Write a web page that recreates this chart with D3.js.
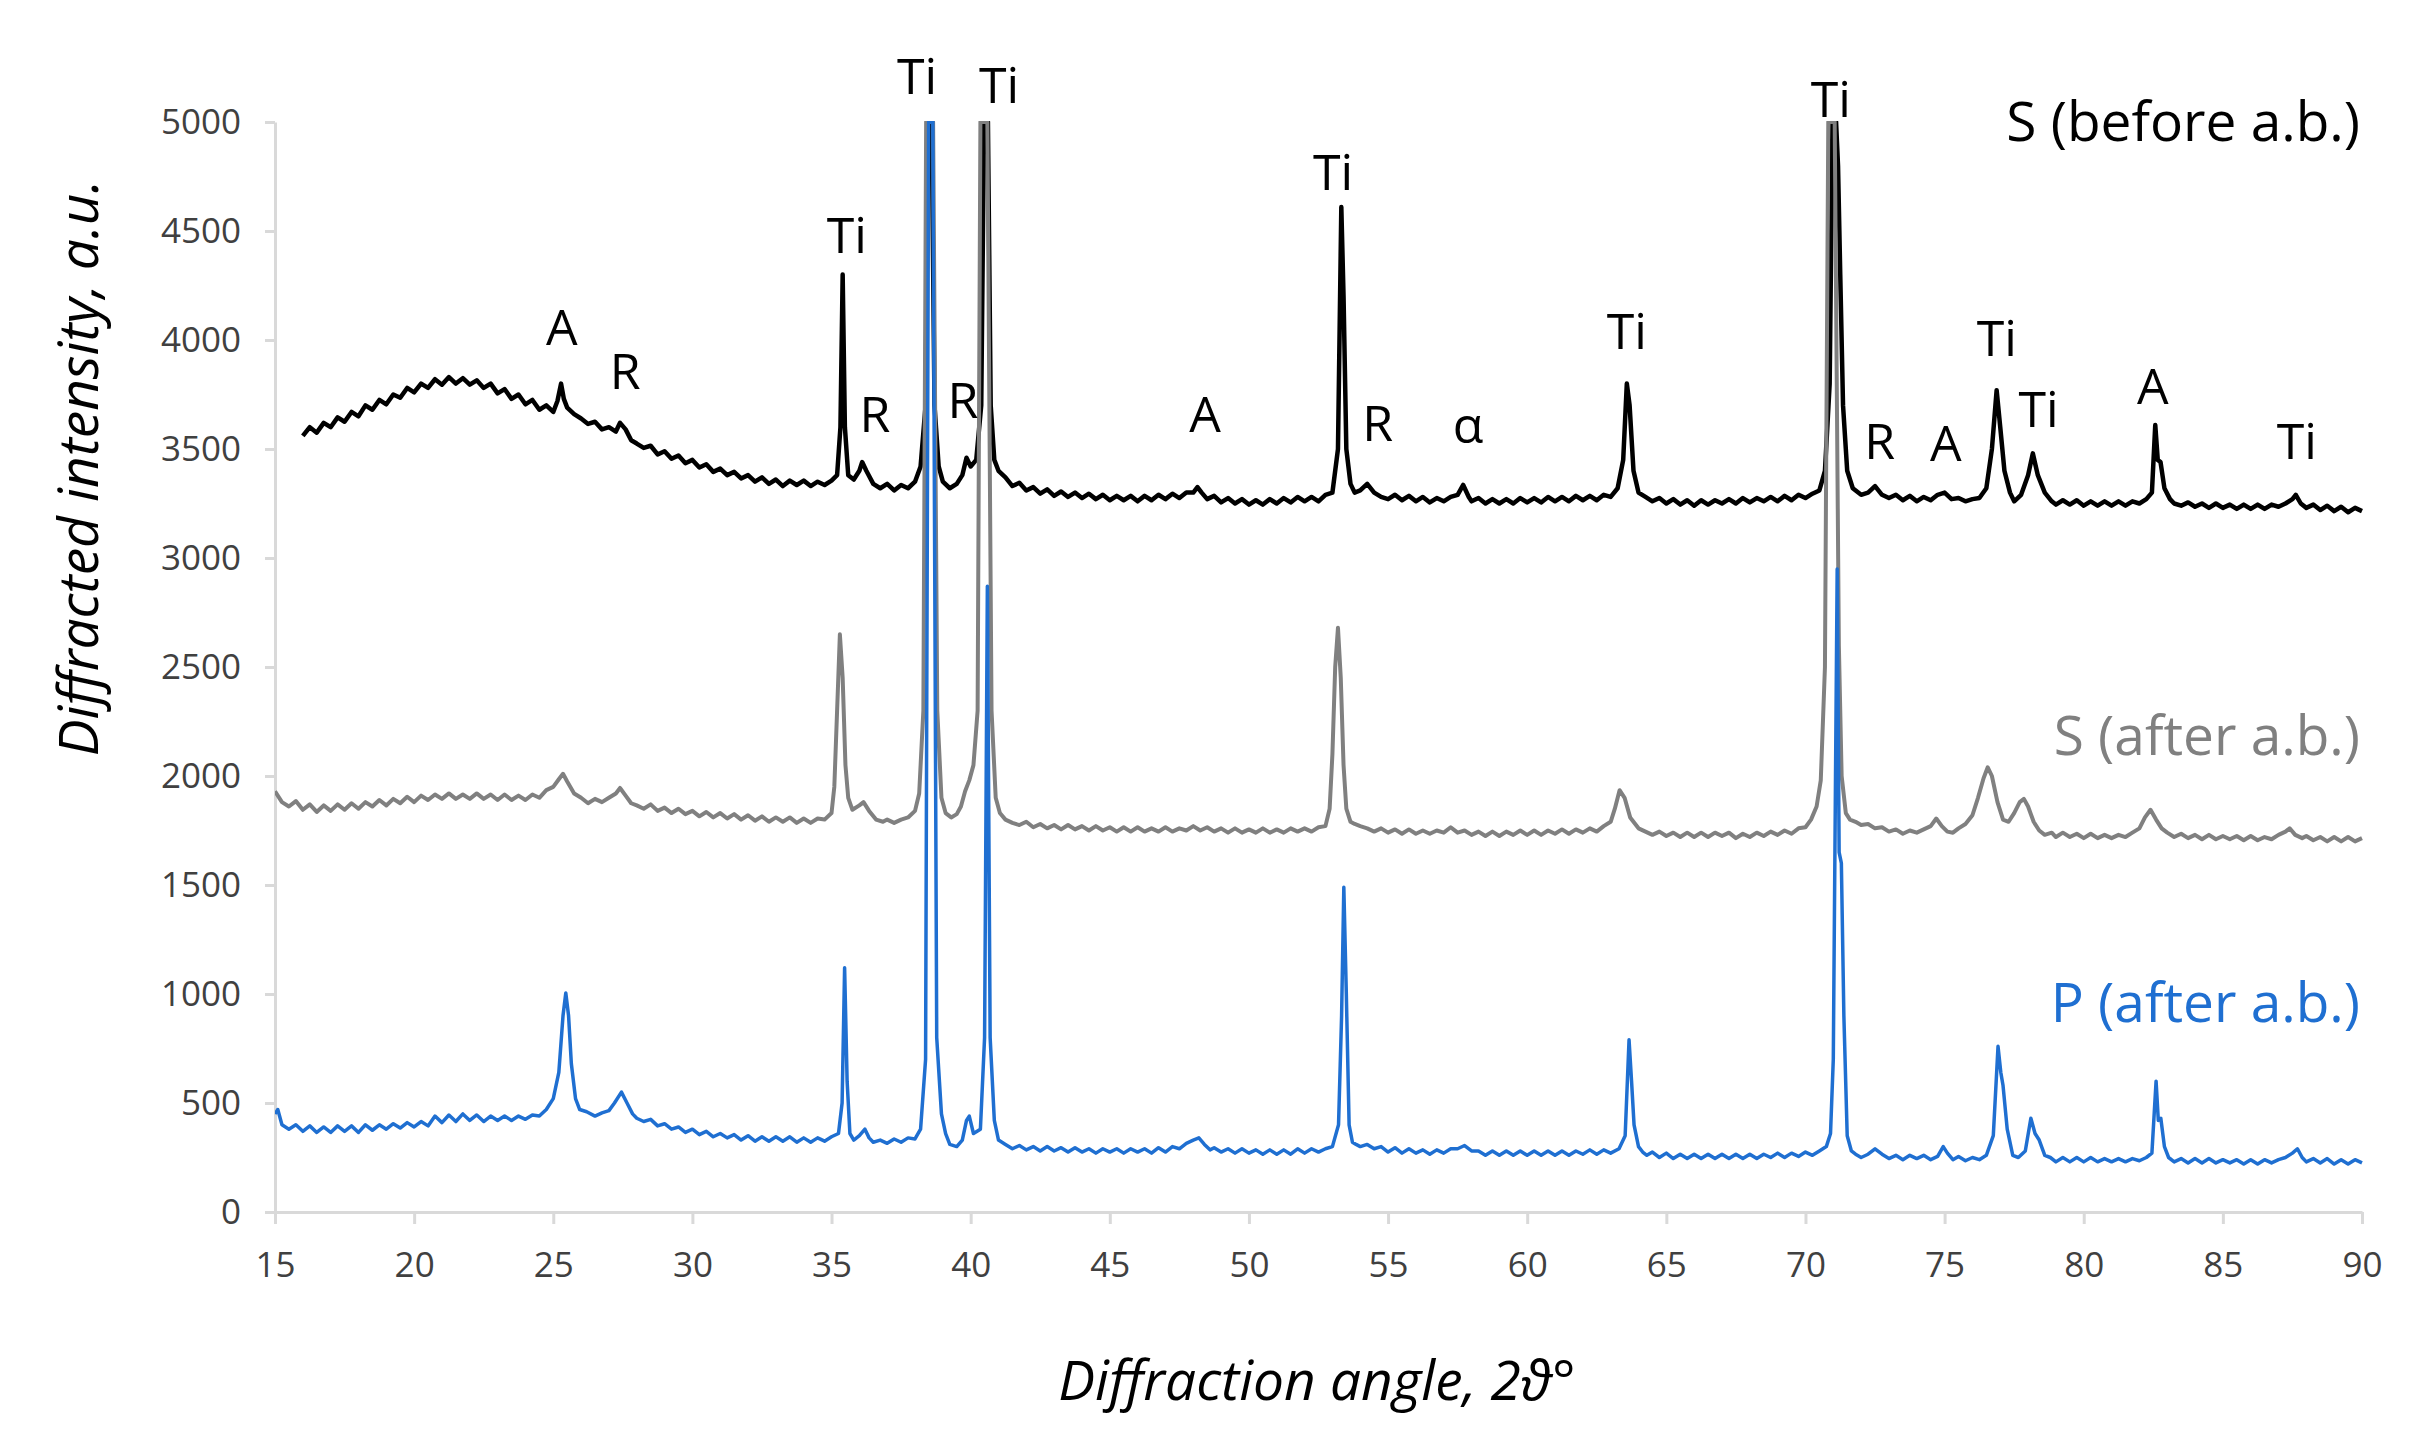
<!DOCTYPE html>
<html>
<head>
<meta charset="utf-8">
<script src="https://cdn.jsdelivr.net/npm/d3@7"></script>
<style>
  body { margin: 0; background: #fff; }
  svg { display: block; }
  .axis path, .axis line { stroke: #d9d9d9; stroke-width: 3; }
  .axis text { font-family: "Open Sans", sans-serif; font-size: 35px; fill: #404040; }
  .title { font-family: "Open Sans", sans-serif; font-style: italic; font-size: 55px; fill: #000; }
  .peak { font-family: "Open Sans", sans-serif; font-size: 50px; fill: #000; text-anchor: middle; }
  .series-label { font-family: "Open Sans", sans-serif; font-size: 55px; text-anchor: end; }
</style>
</head>
<body>
<svg id="chart" width="2421" height="1443"></svg>
<script>
// Ticks -------------------------------------------------------------
const xTicks = [15, 20, 25, 30, 35, 40, 45, 50, 55, 60, 65, 70, 75, 80, 85, 90];
const yTicks = [0, 500, 1000, 1500, 2000, 2500, 3000, 3500, 4000, 4500, 5000];

// Series: [2theta, intensity] ---------------------------------------
const sBefore = [
  [16.0,3560],[16.25,3600],[16.5,3575],[16.75,3620],[17.0,3600],[17.25,3645],[17.5,3625],[17.75,3670],
  [18.0,3650],[18.25,3700],[18.5,3680],[18.75,3725],[19.0,3705],[19.25,3750],[19.5,3735],[19.75,3780],
  [20.0,3760],[20.25,3800],[20.5,3780],[20.75,3820],[21.0,3795],[21.25,3830],[21.5,3800],[21.75,3825],
  [22.0,3795],[22.25,3815],[22.5,3780],[22.75,3800],[23.0,3755],[23.25,3775],[23.5,3730],[23.75,3750],
  [24.0,3705],[24.25,3725],[24.5,3680],[24.75,3700],[25.0,3670],[25.15,3720],[25.28,3800],[25.38,3730],
  [25.5,3690],[25.75,3660],[26.0,3640],[26.25,3615],[26.5,3625],[26.75,3590],[27.0,3600],[27.25,3580],
  [27.4,3620],[27.6,3590],[27.8,3540],[28.0,3525],[28.25,3505],[28.5,3515],[28.75,3475],[29.0,3490],
  [29.25,3455],[29.5,3470],[29.75,3435],[30.0,3450],[30.25,3415],[30.5,3430],[30.75,3395],[31.0,3410],
  [31.25,3380],[31.5,3395],[31.75,3365],[32.0,3380],[32.25,3350],[32.5,3370],[32.75,3340],[33.0,3360],
  [33.25,3330],[33.5,3355],[33.75,3335],[34.0,3355],[34.25,3330],[34.5,3350],[34.75,3335],[35.0,3355],
  [35.2,3380],[35.32,3600],[35.4,4300],[35.48,3600],[35.6,3380],[35.8,3360],[36.0,3400],[36.1,3440],
  [36.25,3400],[36.5,3340],[36.75,3320],[37.0,3340],[37.25,3310],[37.5,3335],[37.75,3320],[38.0,3350],
  [38.2,3420],[38.38,3700],[38.47,5000],[38.6,5000],[38.7,3700],[38.85,3420],[39.0,3350],[39.25,3320],
  [39.5,3340],[39.7,3380],[39.85,3460],[40.0,3420],[40.2,3450],[40.38,3700],[40.48,5000],[40.62,5000],
  [40.72,3700],[40.85,3450],[41.0,3400],[41.25,3370],[41.5,3330],[41.75,3345],[42.0,3310],[42.25,3325],
  [42.5,3295],[42.75,3315],[43.0,3285],[43.25,3305],[43.5,3280],[43.75,3300],[44.0,3275],[44.25,3295],
  [44.5,3270],[44.75,3290],[45.0,3265],[45.25,3285],[45.5,3265],[45.75,3285],[46.0,3260],[46.25,3285],
  [46.5,3265],[46.75,3290],[47.0,3270],[47.25,3295],[47.5,3275],[47.75,3300],[48.0,3300],[48.15,3325],
  [48.3,3300],[48.5,3270],[48.75,3285],[49.0,3255],[49.25,3275],[49.5,3250],[49.75,3270],[50.0,3245],
  [50.25,3265],[50.5,3245],[50.75,3270],[51.0,3250],[51.25,3275],[51.5,3255],[51.75,3280],[52.0,3260],
  [52.25,3280],[52.5,3260],[52.75,3290],[53.0,3300],[53.2,3500],[53.32,4610],[53.4,4200],[53.5,3500],
  [53.65,3340],[53.8,3300],[54.0,3310],[54.25,3340],[54.5,3300],[54.75,3280],[55.0,3270],[55.25,3290],
  [55.5,3265],[55.75,3285],[56.0,3260],[56.25,3280],[56.5,3255],[56.75,3275],[57.0,3260],[57.25,3280],
  [57.5,3290],[57.7,3335],[57.9,3280],[58.0,3260],[58.25,3275],[58.5,3250],[58.75,3270],[59.0,3250],
  [59.25,3270],[59.5,3250],[59.75,3275],[60.0,3255],[60.25,3275],[60.5,3255],[60.75,3280],[61.0,3260],
  [61.25,3280],[61.5,3260],[61.75,3285],[62.0,3265],[62.25,3285],[62.5,3265],[62.75,3290],[63.0,3280],
  [63.25,3320],[63.45,3450],[63.58,3800],[63.68,3700],[63.82,3400],[64.0,3300],[64.25,3280],[64.5,3260],
  [64.75,3275],[65.0,3250],[65.25,3270],[65.5,3245],[65.75,3265],[66.0,3240],[66.25,3265],[66.5,3245],
  [66.75,3265],[67.0,3250],[67.25,3270],[67.5,3250],[67.75,3275],[68.0,3255],[68.25,3275],[68.5,3260],
  [68.75,3280],[69.0,3260],[69.25,3285],[69.5,3265],[69.75,3290],[70.0,3275],[70.25,3295],[70.5,3310],
  [70.7,3400],[70.87,3800],[70.97,5000],[71.1,5000],[71.17,4800],[71.25,4300],[71.35,3700],[71.5,3400],
  [71.7,3320],[72.0,3290],[72.25,3300],[72.5,3330],[72.75,3290],[73.0,3275],[73.25,3290],[73.5,3265],
  [73.75,3285],[74.0,3260],[74.25,3280],[74.5,3265],[74.75,3290],[75.0,3300],[75.25,3270],[75.5,3275],
  [75.75,3260],[76.0,3270],[76.25,3275],[76.5,3320],[76.7,3500],[76.87,3770],[77.0,3600],[77.15,3400],
  [77.35,3300],[77.5,3260],[77.75,3290],[78.0,3380],[78.17,3480],[78.35,3380],[78.6,3300],[78.85,3260],
  [79.0,3245],[79.25,3265],[79.5,3245],[79.75,3265],[80.0,3240],[80.25,3260],[80.5,3240],[80.75,3260],
  [81.0,3240],[81.25,3260],[81.5,3240],[81.75,3260],[82.0,3250],[82.25,3270],[82.45,3300],[82.57,3610],
  [82.66,3450],[82.76,3440],[82.9,3320],[83.1,3270],[83.25,3250],[83.5,3240],[83.75,3255],[84.0,3235],
  [84.25,3250],[84.5,3230],[84.75,3250],[85.0,3230],[85.25,3245],[85.5,3225],[85.75,3245],[86.0,3225],
  [86.25,3245],[86.5,3225],[86.75,3245],[87.0,3235],[87.25,3250],[87.5,3270],[87.62,3290],[87.8,3250],
  [88.0,3230],[88.25,3245],[88.5,3220],[88.75,3240],[89.0,3215],[89.25,3235],[89.5,3210],[89.75,3230],
  [90.0,3215]
];

const sAfter = [
  [15.0,1930],[15.25,1880],[15.5,1860],[15.75,1885],[16.0,1845],[16.25,1870],[16.5,1835],[16.75,1865],
  [17.0,1840],[17.25,1870],[17.5,1845],[17.75,1875],[18.0,1850],[18.25,1880],[18.5,1860],[18.75,1890],
  [19.0,1865],[19.25,1895],[19.5,1875],[19.75,1905],[20.0,1880],[20.25,1910],[20.5,1890],[20.75,1915],
  [21.0,1895],[21.25,1920],[21.5,1895],[21.75,1915],[22.0,1895],[22.25,1920],[22.5,1895],[22.75,1915],
  [23.0,1890],[23.25,1915],[23.5,1890],[23.75,1910],[24.0,1890],[24.25,1915],[24.5,1900],[24.75,1935],
  [25.0,1950],[25.2,1985],[25.35,2010],[25.5,1975],[25.75,1920],[26.0,1900],[26.25,1875],[26.5,1895],
  [26.75,1880],[27.0,1900],[27.25,1920],[27.4,1945],[27.6,1910],[27.8,1875],[28.0,1865],[28.25,1850],
  [28.5,1870],[28.75,1840],[29.0,1855],[29.25,1830],[29.5,1850],[29.75,1825],[30.0,1840],[30.25,1815],
  [30.5,1835],[30.75,1810],[31.0,1830],[31.25,1805],[31.5,1825],[31.75,1800],[32.0,1820],[32.25,1795],
  [32.5,1815],[32.75,1790],[33.0,1810],[33.25,1790],[33.5,1810],[33.75,1785],[34.0,1805],[34.25,1785],
  [34.5,1805],[34.75,1800],[35.0,1830],[35.1,1950],[35.2,2300],[35.3,2650],[35.4,2450],[35.5,2050],
  [35.6,1900],[35.75,1845],[36.0,1865],[36.15,1880],[36.35,1840],[36.6,1800],[36.85,1790],[37.0,1800],
  [37.25,1785],[37.5,1800],[37.75,1810],[38.0,1840],[38.15,1920],[38.3,2300],[38.4,5000],[38.65,5000],
  [38.8,2300],[38.95,1900],[39.1,1830],[39.3,1810],[39.5,1825],[39.65,1860],[39.8,1930],[39.95,1980],
  [40.1,2050],[40.25,2300],[40.35,5000],[40.6,5000],[40.75,2300],[40.9,1900],[41.05,1830],[41.25,1800],
  [41.5,1785],[41.75,1775],[42.0,1790],[42.25,1765],[42.5,1780],[42.75,1760],[43.0,1775],[43.25,1755],
  [43.5,1775],[43.75,1755],[44.0,1770],[44.25,1750],[44.5,1770],[44.75,1750],[45.0,1765],[45.25,1745],
  [45.5,1765],[45.75,1745],[46.0,1765],[46.25,1745],[46.5,1760],[46.75,1745],[47.0,1765],[47.25,1745],
  [47.5,1760],[47.75,1750],[48.0,1770],[48.25,1750],[48.5,1765],[48.75,1745],[49.0,1760],[49.25,1740],
  [49.5,1760],[49.75,1740],[50.0,1755],[50.25,1740],[50.5,1760],[50.75,1740],[51.0,1755],[51.25,1740],
  [51.5,1760],[51.75,1745],[52.0,1760],[52.25,1745],[52.5,1765],[52.75,1770],[52.9,1850],[53.0,2100],
  [53.1,2500],[53.2,2680],[53.3,2450],[53.4,2050],[53.5,1850],[53.65,1790],[53.8,1780],[54.0,1770],
  [54.25,1760],[54.5,1745],[54.75,1760],[55.0,1740],[55.25,1755],[55.5,1735],[55.75,1755],[56.0,1735],
  [56.25,1750],[56.5,1735],[56.75,1750],[57.0,1740],[57.25,1765],[57.5,1740],[57.75,1750],[58.0,1730],
  [58.25,1745],[58.5,1725],[58.75,1745],[59.0,1725],[59.25,1745],[59.5,1730],[59.75,1750],[60.0,1730],
  [60.25,1750],[60.5,1730],[60.75,1750],[61.0,1735],[61.25,1755],[61.5,1735],[61.75,1755],[62.0,1740],
  [62.25,1760],[62.5,1745],[62.75,1770],[63.0,1790],[63.15,1850],[63.32,1935],[63.5,1900],[63.7,1810],
  [64.0,1760],[64.25,1745],[64.5,1730],[64.75,1745],[65.0,1725],[65.25,1740],[65.5,1720],[65.75,1740],
  [66.0,1720],[66.25,1740],[66.5,1720],[66.75,1740],[67.0,1725],[67.25,1740],[67.5,1715],[67.75,1735],
  [68.0,1720],[68.25,1740],[68.5,1725],[68.75,1745],[69.0,1730],[69.25,1750],[69.5,1735],[69.75,1760],
  [70.0,1765],[70.2,1800],[70.4,1860],[70.55,1980],[70.7,2500],[70.82,5000],[71.05,5000],[71.2,2600],
  [71.3,2000],[71.45,1830],[71.6,1800],[71.8,1790],[72.0,1775],[72.25,1780],[72.5,1760],[72.75,1765],
  [73.0,1745],[73.25,1755],[73.5,1735],[73.75,1750],[74.0,1740],[74.25,1755],[74.5,1770],[74.7,1805],
  [74.9,1770],[75.1,1745],[75.3,1740],[75.5,1760],[75.75,1780],[76.0,1820],[76.2,1900],[76.4,1990],
  [76.55,2040],[76.7,2000],[76.9,1880],[77.1,1800],[77.3,1790],[77.5,1830],[77.7,1880],[77.85,1895],
  [78.0,1860],[78.2,1790],[78.4,1750],[78.6,1730],[78.85,1740],[79.0,1720],[79.25,1740],[79.5,1720],
  [79.75,1735],[80.0,1715],[80.25,1735],[80.5,1715],[80.75,1730],[81.0,1715],[81.25,1730],[81.5,1720],
  [81.75,1740],[82.0,1760],[82.2,1810],[82.4,1845],[82.6,1800],[82.8,1760],[83.0,1740],[83.25,1720],
  [83.5,1735],[83.75,1715],[84.0,1730],[84.25,1710],[84.5,1730],[84.75,1710],[85.0,1725],[85.25,1710],
  [85.5,1725],[85.75,1705],[86.0,1725],[86.25,1705],[86.5,1720],[86.75,1710],[87.0,1730],[87.25,1745],
  [87.4,1760],[87.6,1730],[87.85,1715],[88.0,1725],[88.25,1705],[88.5,1720],[88.75,1700],[89.0,1720],
  [89.25,1700],[89.5,1720],[89.75,1700],[90.0,1715]
];

const pAfter = [
  [15.0,450],[15.1,470],[15.25,400],[15.5,380],[15.75,400],[16.0,370],[16.25,395],[16.5,365],
  [16.75,390],[17.0,365],[17.25,395],[17.5,370],[17.75,395],[18.0,365],[18.25,400],[18.5,375],
  [18.75,400],[19.0,380],[19.25,405],[19.5,385],[19.75,410],[20.0,390],[20.25,415],[20.5,395],
  [20.75,440],[21.0,410],[21.25,445],[21.5,415],[21.75,450],[22.0,420],[22.25,445],[22.5,415],
  [22.75,440],[23.0,420],[23.25,440],[23.5,420],[23.75,440],[24.0,425],[24.25,445],[24.5,440],
  [24.75,470],[25.0,520],[25.2,640],[25.35,900],[25.45,1005],[25.55,900],[25.65,680],[25.8,520],
  [25.95,470],[26.2,460],[26.5,440],[26.75,455],[27.0,465],[27.2,500],[27.45,550],[27.65,500],
  [27.85,450],[28.0,430],[28.25,415],[28.5,425],[28.75,395],[29.0,405],[29.25,380],[29.5,390],
  [29.75,365],[30.0,380],[30.25,355],[30.5,370],[30.75,345],[31.0,360],[31.25,340],[31.5,355],
  [31.75,330],[32.0,350],[32.25,325],[32.5,345],[32.75,325],[33.0,345],[33.25,325],[33.5,345],
  [33.75,320],[34.0,340],[34.25,320],[34.5,340],[34.75,325],[35.0,345],[35.25,360],[35.38,500],
  [35.47,1120],[35.56,600],[35.66,360],[35.8,330],[36.0,350],[36.2,380],[36.35,340],[36.5,320],
  [36.75,330],[37.0,315],[37.25,335],[37.5,320],[37.75,340],[38.0,335],[38.2,380],[38.38,700],
  [38.49,5000],[38.64,5000],[38.78,800],[38.95,450],[39.1,360],[39.25,310],[39.5,300],[39.7,330],
  [39.85,420],[39.95,440],[40.1,360],[40.35,380],[40.5,800],[40.6,2870],[40.7,800],[40.85,420],
  [41.0,330],[41.25,310],[41.5,290],[41.75,305],[42.0,285],[42.25,300],[42.5,280],[42.75,300],
  [43.0,280],[43.25,295],[43.5,275],[43.75,295],[44.0,275],[44.25,290],[44.5,270],[44.75,290],
  [45.0,275],[45.25,290],[45.5,270],[45.75,290],[46.0,275],[46.25,290],[46.5,270],[46.75,295],
  [47.0,275],[47.25,300],[47.5,290],[47.75,315],[48.0,330],[48.2,340],[48.4,310],[48.6,285],
  [48.75,295],[49.0,275],[49.25,290],[49.5,270],[49.75,290],[50.0,270],[50.25,285],[50.5,265],
  [50.75,285],[51.0,265],[51.25,285],[51.5,265],[51.75,290],[52.0,270],[52.25,290],[52.5,275],
  [52.75,290],[53.0,300],[53.22,400],[53.33,900],[53.41,1490],[53.5,1000],[53.6,400],[53.72,320],
  [53.85,310],[54.0,300],[54.25,310],[54.5,290],[54.75,300],[55.0,275],[55.25,295],[55.5,270],
  [55.75,290],[56.0,270],[56.25,285],[56.5,265],[56.75,285],[57.0,270],[57.25,290],[57.5,290],
  [57.75,305],[58.0,280],[58.25,280],[58.5,260],[58.75,280],[59.0,260],[59.25,280],[59.5,260],
  [59.75,280],[60.0,260],[60.25,280],[60.5,260],[60.75,280],[61.0,260],[61.25,280],[61.5,260],
  [61.75,280],[62.0,265],[62.25,285],[62.5,265],[62.75,285],[63.0,270],[63.3,290],[63.52,350],
  [63.66,790],[63.75,600],[63.84,400],[64.0,300],[64.15,275],[64.3,260],[64.5,275],[64.75,250],
  [65.0,270],[65.25,245],[65.5,265],[65.75,245],[66.0,265],[66.25,245],[66.5,265],[66.75,245],
  [67.0,265],[67.25,245],[67.5,265],[67.75,245],[68.0,265],[68.25,245],[68.5,265],[68.75,250],
  [69.0,270],[69.25,250],[69.5,270],[69.75,255],[70.0,275],[70.25,260],[70.5,280],[70.75,300],
  [70.9,360],[71.0,700],[71.08,2000],[71.14,2950],[71.21,1650],[71.29,1600],[71.38,900],[71.5,350],
  [71.65,280],[71.8,265],[72.0,250],[72.25,265],[72.5,290],[72.75,265],[73.0,245],[73.25,260],
  [73.5,240],[73.75,260],[74.0,245],[74.25,260],[74.5,240],[74.75,255],[74.95,300],[75.1,270],
  [75.3,240],[75.5,255],[75.75,235],[76.0,250],[76.25,240],[76.5,260],[76.75,350],[76.92,760],
  [77.02,640],[77.1,580],[77.25,380],[77.45,260],[77.65,250],[77.9,280],[78.1,430],[78.25,360],
  [78.4,330],[78.6,260],[78.8,250],[79.0,230],[79.25,250],[79.5,230],[79.75,250],[80.0,230],
  [80.25,250],[80.5,230],[80.75,245],[81.0,230],[81.25,245],[81.5,230],[81.75,245],[82.0,235],
  [82.25,250],[82.45,270],[82.6,600],[82.68,420],[82.77,430],[82.9,300],[83.05,250],[83.25,230],
  [83.5,245],[83.75,225],[84.0,245],[84.25,225],[84.5,245],[84.75,225],[85.0,240],[85.25,225],
  [85.5,240],[85.75,220],[86.0,240],[86.25,220],[86.5,240],[86.75,225],[87.0,240],[87.25,250],
  [87.5,270],[87.68,290],[87.85,250],[88.0,230],[88.25,245],[88.5,225],[88.75,245],[89.0,220],
  [89.25,240],[89.5,220],[89.75,240],[90.0,225]
];

// Phase markers: [label, 2theta, intensity level of the label baseline]
const peakLabels = [
  ["A", 25.31, 3977], ["R", 27.58, 3775], ["Ti", 35.55, 4399], ["R", 36.56, 3578],
  ["Ti", 38.07, 5128], ["R", 39.72, 3642], ["Ti", 41.02, 5087], ["A", 48.42, 3578],
  ["Ti", 53.02, 4688], ["R", 54.63, 3537], ["\u03b1", 57.87, 3528], ["Ti", 63.58, 3959],
  ["Ti", 70.91, 5023], ["R", 72.67, 3454], ["A", 75.04, 3445], ["Ti", 76.88, 3927],
  ["Ti", 78.38, 3601], ["A", 82.48, 3706], ["Ti", 87.66, 3454]
];

const seriesNames = ["S (before a.b.)", "S (after a.b.)", "P (after a.b.)"];
const seriesColors = ["#000000", "#808080", "#1f6fd1"];
const seriesWidths = [4.5, 4, 3.5];
const seriesLabelLevel = [4913, 2096, 872];
const seriesData = [sBefore, sAfter, pAfter];

// Scales ------------------------------------------------------------
const xScale = d3.scaleLinear().domain([15, 90]).range([275, 2362]);
const yScale = d3.scaleLinear().domain([0, 5000]).range([1212, 122]);

const svg = d3.select("#chart");

drawAxes();
drawSeries();
drawLabels();

// Axes --------------------------------------------------------------
function drawAxes() {
  svg.append("g")
      .attr("class", "axis")
      .attr("transform", `translate(${xScale.range()[0]},0)`)
      .call(d3.axisLeft(yScale).tickValues(yTicks).tickFormat(d3.format("d"))
        .tickSize(10).tickSizeOuter(0).tickPadding(24));

  svg.append("g")
      .attr("class", "axis")
      .attr("transform", `translate(0,${yScale(0)})`)
      .call(d3.axisBottom(xScale).tickValues(xTicks).tickFormat(d3.format("d"))
        .tickSize(12).tickSizeOuter(0).tickPadding(28));

  svg.selectAll(".axis text").attr("fill", "#404040");

  // Titles
  svg.append("text")
      .attr("class", "title")
      .attr("text-anchor", "middle")
      .attr("x", 1317)
      .attr("y", 1400)
      .text("Diffraction angle, 2\u03d1\u00b0");

  svg.append("text")
      .attr("class", "title")
      .attr("text-anchor", "middle")
      .attr("transform", "translate(98,468) rotate(-90)")
      .text("Diffracted intensity, a.u.");
}

// Series ------------------------------------------------------------
function drawSeries() {
  svg.append("clipPath")
      .attr("id", "plot-clip")
    .append("rect")
      .attr("x", xScale(15))
      .attr("y", yScale(5000) - 1)
      .attr("width", xScale(90) - xScale(15) + 2)
      .attr("height", yScale(0) - yScale(5000) + 1);

  const line = d3.line()
      .x(d => xScale(d[0]))
      .y(d => yScale(d[1]));

  svg.append("g")
      .attr("clip-path", "url(#plot-clip)")
    .selectAll("path")
    .data(seriesData)
    .enter()
    .append("path")
      .attr("d", line)
      .attr("fill", "none")
      .attr("stroke", (d, i) => seriesColors[i])
      .attr("stroke-width", (d, i) => seriesWidths[i])
      .attr("stroke-linejoin", "round");
}

// Labels ------------------------------------------------------------
function drawLabels() {
  svg.append("g")
    .selectAll("text")
    .data(peakLabels)
    .enter()
    .append("text")
      .attr("class", "peak")
      .attr("x", d => xScale(d[1]))
      .attr("y", d => yScale(d[2]))
      .text(d => d[0]);

  svg.append("g")
    .selectAll("text")
    .data(seriesNames)
    .enter()
    .append("text")
      .attr("class", "series-label")
      .attr("x", xScale(90) - 2)
      .attr("y", (d, i) => yScale(seriesLabelLevel[i]))
      .attr("fill", (d, i) => seriesColors[i])
      .text(d => d);
}
</script>
</body>
</html>
